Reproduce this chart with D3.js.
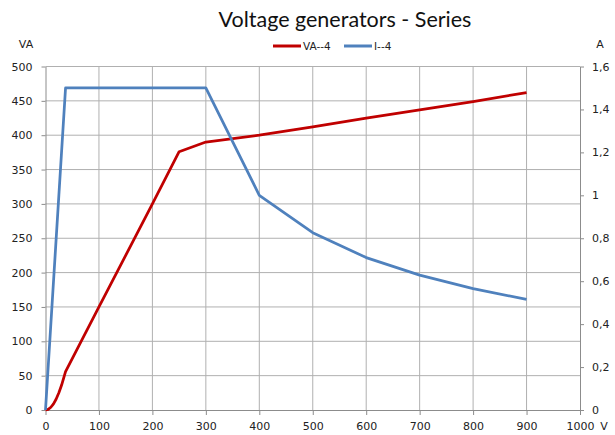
<!DOCTYPE html>
<html>
<head>
<meta charset="utf-8">
<script src="https://cdn.jsdelivr.net/npm/d3@7"></script>
<style>
  html, body { margin: 0; padding: 0; background: #fff; }
  svg { display: block; }
  .tick text { font-family: "DejaVu Sans", sans-serif; font-size: 11px; fill: #222; }
</style>
</head>
<body>
<svg id="chart" width="615" height="435"></svg>
<script>
// Voltage (V) readings for each series
const vaVoltage = [0, 5, 10, 15, 20, 25, 30, 37.5, 100, 200, 250, 300, 400, 500, 600, 700, 800, 900];
const vaValues  = [0, 1, 4, 9, 16, 25, 36, 56, 150, 300, 376, 390, 400, 412, 425, 437, 449, 462];

const iVoltage = [0, 37.5, 300, 400, 500, 600, 700, 800, 900];
const iValues  = [0, 1.5, 1.5, 1.0, 0.826, 0.71, 0.628, 0.565, 0.515];

const seriesNames = ["VA--4", "I--4"];
const seriesColors = ["#C00000", "#4F81BD"];

const xTicks = [0, 100, 200, 300, 400, 500, 600, 700, 800, 900, 1000];
const yLeftTicks = [0, 50, 100, 150, 200, 250, 300, 350, 400, 450, 500];
const yRightTicks = [0, 0.2, 0.4, 0.6, 0.8, 1, 1.2, 1.4, 1.6];

const svg = d3.select("#chart");
const plotLeft = 45.5, plotRight = 580, plotTop = 66.5, plotBottom = 410;

const x = d3.scaleLinear().domain([0, 1000]).range([plotLeft, plotRight]);
const yL = d3.scaleLinear().domain([0, 500]).range([plotBottom, plotTop]);
const yR = d3.scaleLinear().domain([0, 1.6]).range([plotBottom, plotTop]);

const gridColor = "#b0b0b0";
const axisColor = "#8c8c8c";

// Gridlines
svg.append("g")
  .selectAll("line")
  .data(yLeftTicks.slice(1))
  .join("line")
  .attr("x1", plotLeft).attr("x2", plotRight)
  .attr("y1", d => yL(d)).attr("y2", d => yL(d))
  .attr("stroke", gridColor).attr("stroke-width", 1);

svg.append("g")
  .selectAll("line")
  .data(xTicks.slice(1, -1))
  .join("line")
  .attr("x1", d => x(d)).attr("x2", d => x(d))
  .attr("y1", plotTop).attr("y2", plotBottom)
  .attr("stroke", gridColor).attr("stroke-width", 1);

// Axes
const fmtComma = d => String(d).replace(".", ",");
const fmtPlain = d => String(d);

const gx = svg.append("g").attr("transform", `translate(0,${plotBottom})`)
  .call(d3.axisBottom(x).tickValues(xTicks).tickFormat(fmtPlain).tickSize(5).tickPadding(6).tickSizeOuter(0));
const gl = svg.append("g").attr("transform", `translate(${plotLeft},0)`)
  .call(d3.axisLeft(yL).tickValues(yLeftTicks).tickFormat(fmtPlain).tickSize(4).tickPadding(9).tickSizeOuter(0));
const gr = svg.append("g").attr("transform", `translate(${plotRight},0)`)
  .call(d3.axisRight(yR).tickValues(yRightTicks).tickFormat(fmtComma).tickSize(4).tickPadding(8).tickSizeOuter(0));

[gx, gl, gr].forEach(g => {
  g.selectAll(".domain").attr("stroke", axisColor);
  g.selectAll(".tick line").attr("stroke", axisColor);
});
gx.selectAll(".tick text").attr("dy", "0.85em");

// Series lines
const vaLine = d3.line().x(d => x(d[0])).y(d => yL(d[1]));
const iLine = d3.line().x(d => x(d[0])).y(d => yR(d[1]));

svg.append("path")
  .datum(vaVoltage.map((v, i) => [v, vaValues[i]]))
  .attr("d", vaLine)
  .attr("fill", "none").attr("stroke", seriesColors[0])
  .attr("stroke-width", 2.75).attr("stroke-linejoin", "round");

svg.append("path")
  .datum(iVoltage.map((v, i) => [v, iValues[i]]))
  .attr("d", iLine)
  .attr("fill", "none").attr("stroke", seriesColors[1])
  .attr("stroke-width", 2.75).attr("stroke-linejoin", "round");

// Title
svg.append("text")
  .attr("x", 345).attr("y", 27)
  .attr("text-anchor", "middle")
  .style("font-family", "Lato, sans-serif").style("font-size", "21.5px").style("fill", "#111")
  .text("Voltage generators - Series");

// Axis unit labels
const unitStyle = sel => sel.style("font-family", "DejaVu Sans, sans-serif").style("font-size", "11px").style("fill", "#222");
svg.append("text").attr("x", 26).attr("y", 48).attr("text-anchor", "middle").call(unitStyle).text("VA");
svg.append("text").attr("x", 600).attr("y", 48).attr("text-anchor", "middle").call(unitStyle).text("A");
svg.append("text").attr("x", 604).attr("y", 430).attr("text-anchor", "middle").call(unitStyle).text("V");

// Legend
const legendItems = [
  { name: seriesNames[0], color: seriesColors[0], x: 273 },
  { name: seriesNames[1], color: seriesColors[1], x: 344 }
];
const lg = svg.append("g");
legendItems.forEach(it => {
  lg.append("line").attr("x1", it.x).attr("x2", it.x + 28).attr("y1", 46).attr("y2", 46)
    .attr("stroke", it.color).attr("stroke-width", 3);
  lg.append("text").attr("x", it.x + 30).attr("y", 50)
    .style("font-family", "DejaVu Sans, sans-serif").style("font-size", "10.5px").style("fill", "#222")
    .text(it.name);
});
</script>
</body>
</html>
